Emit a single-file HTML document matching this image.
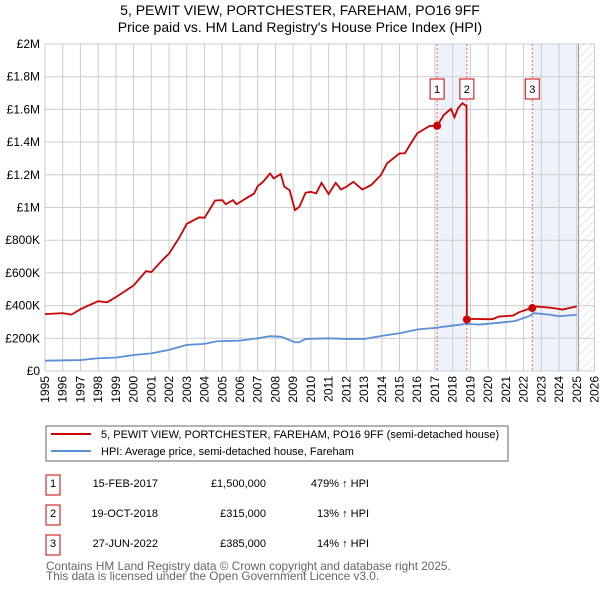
<!DOCTYPE html>
<html><head><meta charset="utf-8"><style>
body{margin:0;background:#fff;}
svg{display:block;font-family:"Liberation Sans","DejaVu Sans",sans-serif;}
</style></head><body>
<svg id="c" width="600" height="590" xmlns="http://www.w3.org/2000/svg">
<defs><pattern id="hatch" width="6" height="6" patternUnits="userSpaceOnUse" patternTransform="rotate(45)"><line x1="0" y1="0" x2="0" y2="6" stroke="#ccc" stroke-width="1"/></pattern></defs>
<text x="300" y="15" text-anchor="middle" font-size="14" fill="#000">5, PEWIT VIEW, PORTCHESTER, FAREHAM, PO16 9FF</text>
<text x="300" y="32" text-anchor="middle" font-size="14" fill="#000">Price paid vs. HM Land Registry's House Price Index (HPI)</text>
<g id="grid"></g><g id="marks"></g><g id="axes"></g>
<rect x="46" y="426" width="462" height="35" fill="#fff" stroke="#666"/>
<line x1="51" y1="434" x2="91" y2="434" stroke="#cc0000" stroke-width="2"/>
<text x="101" y="438" font-size="11">5, PEWIT VIEW, PORTCHESTER, FAREHAM, PO16 9FF (semi-detached house)</text>
<line x1="51" y1="451" x2="91" y2="451" stroke="#5b8fd6" stroke-width="2"/>
<text x="101" y="455" font-size="11">HPI: Average price, semi-detached house, Fareham</text>
<g font-size="11">
<rect x="46" y="475" width="14" height="20" fill="#fff" stroke="#cc0000"/><text x="53" y="487" text-anchor="middle">1</text>
<text x="158" y="487" text-anchor="end">15-FEB-2017</text><text x="266" y="487" text-anchor="end">£1,500,000</text><text x="369" y="487" text-anchor="end">479% ↑ HPI</text>
<rect x="46" y="505" width="14" height="20" fill="#fff" stroke="#cc0000"/><text x="53" y="517" text-anchor="middle">2</text>
<text x="158" y="517" text-anchor="end">19-OCT-2018</text><text x="266" y="517" text-anchor="end">£315,000</text><text x="369" y="517" text-anchor="end">13% ↑ HPI</text>
<rect x="46" y="535" width="14" height="20" fill="#fff" stroke="#cc0000"/><text x="53" y="547" text-anchor="middle">3</text>
<text x="158" y="547" text-anchor="end">27-JUN-2022</text><text x="266" y="547" text-anchor="end">£385,000</text><text x="369" y="547" text-anchor="end">14% ↑ HPI</text>
</g>
<text x="46" y="570" font-size="11.8" fill="#666">Contains HM Land Registry data © Crown copyright and database right 2025.</text>
<text x="46" y="580" font-size="11.8" fill="#666">This data is licensed under the Open Government Licence v3.0.</text>
</svg>
<script>
const redYears=[1995,1996,1996.5,1997,1998,1998.5,1999,2000,2000.7,2001,2001.7,2002,2002.6,2003,2003.7,2004,2004.6,2005,2005.2,2005.6,2005.8,2006.8,2007,2007.3,2007.7,2007.9,2008.3,2008.5,2008.8,2009.1,2009.35,2009.7,2010,2010.3,2010.6,2011,2011.4,2011.7,2012,2012.4,2012.9,2013.4,2013.95,2014.3,2015,2015.3,2015.7,2016,2016.7,2017.13,2017.5,2017.9,2018.1,2018.3,2018.55,2018.78,2018.8,2019.1,2019.9,2020.25,2020.6,2021.4,2021.75,2022.3,2022.49,2022.7,2023.6,2024.2,2025];
const redValues=[0.348,0.354,0.345,0.378,0.427,0.42,0.452,0.523,0.611,0.605,0.687,0.718,0.82,0.9,0.94,0.937,1.043,1.045,1.02,1.045,1.02,1.086,1.13,1.157,1.208,1.178,1.205,1.127,1.106,0.984,1.004,1.09,1.096,1.086,1.151,1.082,1.151,1.11,1.127,1.157,1.11,1.137,1.198,1.27,1.331,1.331,1.403,1.454,1.499,1.5,1.566,1.603,1.552,1.607,1.638,1.62,0.315,0.319,0.317,0.317,0.333,0.339,0.36,0.38,0.385,0.395,0.386,0.376,0.395];
const hpiYears=[1995,1997,1998,1999,2000,2001,2002,2003,2004,2004.7,2006,2007,2007.7,2008.3,2009.1,2009.35,2009.7,2011,2012,2013,2014,2015,2016,2017,2018,2018.8,2019.5,2020.5,2021.5,2022.3,2022.6,2023.5,2024,2025];
const hpiValues=[0.063,0.067,0.078,0.082,0.098,0.108,0.129,0.16,0.166,0.182,0.186,0.2,0.213,0.21,0.176,0.176,0.196,0.2,0.196,0.196,0.215,0.231,0.254,0.264,0.278,0.288,0.284,0.294,0.305,0.335,0.354,0.344,0.335,0.344];
const saleYears=[2017.12,2018.8,2022.49];
const saleValues=[1.5,0.315,0.385];
const saleLabels=["1","2","3"];
const yTicks=[0,0.2,0.4,0.6,0.8,1,1.2,1.4,1.6,1.8,2];
const yTickLabels=["£0","£200K","£400K","£600K","£800K","£1M","£1.2M","£1.4M","£1.6M","£1.8M","£2M"];
const xTicks=[1995,1996,1997,1998,1999,2000,2001,2002,2003,2004,2005,2006,2007,2008,2009,2010,2011,2012,2013,2014,2015,2016,2017,2018,2019,2020,2021,2022,2023,2024,2025,2026];
const dataEnd=2025.1;
const L=45,R=594.5,T=44,B=371,X0=1995,X1=2026;
const sx=v=>L+(v-X0)*(R-L)/(X1-X0);
const sy=v=>B-v*(B-T)/2;
const NS="http://www.w3.org/2000/svg";
function mk(tag,attrs,parent){const e=document.createElementNS(NS,tag);for(const k in attrs)e.setAttribute(k,attrs[k]);parent.appendChild(e);return e;}
const grid=document.getElementById('grid'),marks=document.getElementById('marks'),axes=document.getElementById('axes');
mk('rect',{x:L,y:T,width:R-L,height:B-T,fill:'#fff'},grid);
let s1=mk('rect',{x:sx(saleYears[0]),y:T,width:sx(saleYears[1])-sx(saleYears[0]),height:B-T,fill:'#eef3fb'},grid);


let s2=mk('rect',{x:sx(saleYears[2]),y:T,width:sx(dataEnd)-sx(saleYears[2]),height:B-T,fill:'#eef3fb'},grid);


let h=mk('rect',{x:sx(dataEnd),y:T,width:R-sx(dataEnd),height:B-T,fill:'url(#hatch)'},grid);


xTicks.forEach(t=>{mk('line',{x1:sx(t),x2:sx(t),y1:T,y2:B,stroke:'#ccc','stroke-width':1},grid);
 const tx=mk('text',{x:0,y:0,'font-size':12,'text-anchor':'end',transform:`translate(${sx(t)+4},376) rotate(-90)`},axes);tx.textContent=t;
 
 });
yTicks.forEach((t,i)=>{mk('line',{x1:L,x2:R,y1:sy(t),y2:sy(t),stroke:'#ccc','stroke-width':1},grid);
 const tx=mk('text',{x:40,y:sy(t)+4,'font-size':12,'text-anchor':'end'},axes);tx.textContent=yTickLabels[i];
 
 });
mk('line',{x1:sx(dataEnd),x2:sx(dataEnd),y1:T,y2:B,stroke:'#999','stroke-width':1},grid);
saleYears.forEach(y=>{const l=mk('line',{x1:sx(y),x2:sx(y),y1:T,y2:B,stroke:'#f06060','stroke-width':1,'stroke-dasharray':'2,2'},grid);
 
 });
const hp=mk('polyline',{points:hpiYears.map((y,i)=>sx(y)+','+sy(hpiValues[i])).join(' '),fill:'none',stroke:'#5b8fd6','stroke-width':1.8},marks);


const rp=mk('polyline',{points:redYears.map((y,i)=>sx(y)+','+sy(redValues[i])).join(' '),fill:'none',stroke:'#cc0000','stroke-width':1.8},marks);


saleYears.forEach((y,i)=>{const c=mk('circle',{cx:sx(y),cy:sy(saleValues[i]),r:4,fill:'#cc0000'},marks);
 
 
 const g=mk('g',{},marks);
 
 
 mk('rect',{x:sx(y)-7,y:79,width:14,height:20,fill:'#fff',stroke:'#cc0000'},g);
 const t=mk('text',{x:sx(y),y:93,'font-size':11,'text-anchor':'middle'},g);t.textContent=saleLabels[i];});
</script>
</body></html>
